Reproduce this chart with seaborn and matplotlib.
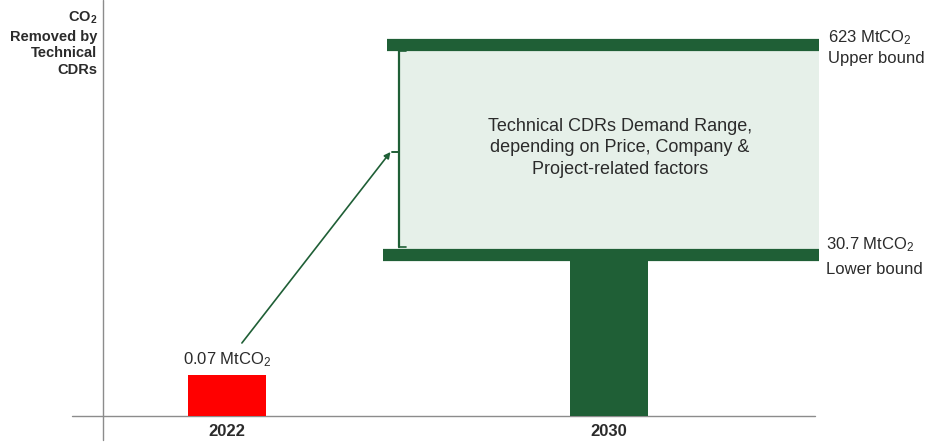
import matplotlib
matplotlib.use("Agg")
import matplotlib.pyplot as plt
import seaborn as sns
import pandas as pd

sns.set_theme(style="white")
plt.rcParams['font.family'] = ['Liberation Sans', 'DejaVu Sans']
plt.rcParams['mathtext.fontset'] = 'custom'
plt.rcParams['mathtext.rm'] = 'Liberation Sans'
plt.rcParams['mathtext.it'] = 'Liberation Sans:italic'
plt.rcParams['mathtext.bf'] = 'Liberation Sans:bold'

# ---- data ----
years = ["2022", "2030"]
values_mt = [0.07, 30.7]            # MtCO2 (2030 = lower bound)
upper_bound_mt = 623                # MtCO2
bound_names = ["Upper bound", "Lower bound"]
# schematic (not to scale) display heights used by the original graphic
display_heights = [41, 161]
display_upper = 371
bar_colors = ["#FF0000", "#1F5F36"]
range_text = "Technical CDRs Demand Range,\ndepending on Price, Company &\nProject-related factors"
ylabel_lines = ["CO$_\\mathregular{2}$", "Removed by", "Technical", "CDRs"]

DARK = "#1F5F36"
LIGHT = "#E6F0E9"
TXT = "#2B2B2B"
GRID = "#8C8C8C"

df = pd.DataFrame({"year": years, "h": display_heights})

fig = plt.figure(figsize=(9.34, 4.42), dpi=100)
ax = fig.add_axes([0, 0, 1, 1])
sns.barplot(data=df, x="year", y="h", hue="year", palette=bar_colors,
            order=years, width=0.204, legend=False, ax=ax, saturation=1,
            linewidth=0, edgecolor="none", zorder=2)

lower = display_heights[1]
upper = display_upper
x_left_range = 0.448
x_right = 1.550

# shaded demand range
ax.fill_between([x_left_range, x_right], lower, upper, color=LIGHT, zorder=1, lw=0)
# bound bars
ax.plot([0.419, x_right], [upper, upper], color=DARK, lw=8.8, solid_capstyle="butt", zorder=3)
ax.plot([0.408, x_right], [lower, lower], color=DARK, lw=8.8, solid_capstyle="butt", zorder=3)
# bracket
ax.plot([0.450, 0.450], [lower + 8, upper - 6], color=DARK, lw=1.6, zorder=3)
ax.plot([0.450, 0.468], [lower + 8, lower + 8], color=DARK, lw=1.2, zorder=3)
ax.plot([0.450, 0.468], [upper - 6, upper - 6], color=DARK, lw=1.2, zorder=3)
ax.plot([0.432, 0.450], [264, 264], color=DARK, lw=1.4, zorder=3)
# arrow from 2022 to range
ax.annotate("", xy=(0.428, 264), xytext=(0.039, 73),
            arrowprops=dict(arrowstyle="-|>", color=DARK, lw=1.2,
                            mutation_scale=9, shrinkA=0, shrinkB=0), zorder=3)

# axes lines
ax.plot([-0.325, -0.325], [-24, 416], color=GRID, lw=1.0, zorder=0)
ax.plot([-0.406, 1.539], [0, 0], color=GRID, lw=1.0, zorder=0)

# labels
ax.text(0, display_heights[0] + 6, f"{values_mt[0]:.2f} MtCO$_\\mathregular{{2}}$",
        ha="center", va="bottom", fontsize=12, color=TXT)
ax.text(1.573, upper + 7, f"{upper_bound_mt} MtCO$_\\mathregular{{2}}$",
        ha="left", va="center", fontsize=12, color=TXT)
ax.text(1.573, upper - 13, bound_names[0], ha="left", va="center", fontsize=12, color=TXT)
ax.text(1.568, lower + 10, f"{values_mt[1]} MtCO$_\\mathregular{{2}}$",
        ha="left", va="center", fontsize=12, color=TXT)
ax.text(1.568, lower - 15, bound_names[1], ha="left", va="center", fontsize=12, color=TXT)
ax.text(1.029, 268, range_text, ha="center", va="center", fontsize=13,
        color=TXT, linespacing=1.36)

for i, y in enumerate(years):
    ax.text(i, -16, y, ha="center", va="center", fontsize=12, fontweight="bold", color=TXT)

for txt, yy in zip(ylabel_lines, [398, 379, 363, 346]):
    ax.text(-0.340, yy, txt, ha="right", va="center", fontsize=10.5,
            fontweight="bold", color=TXT)

ax.set_xlim(-227 / 382, (934 - 227) / 382)
ax.set_ylim(-26, 416)
ax.axis("off")

fig.savefig("out.png", dpi=100)
